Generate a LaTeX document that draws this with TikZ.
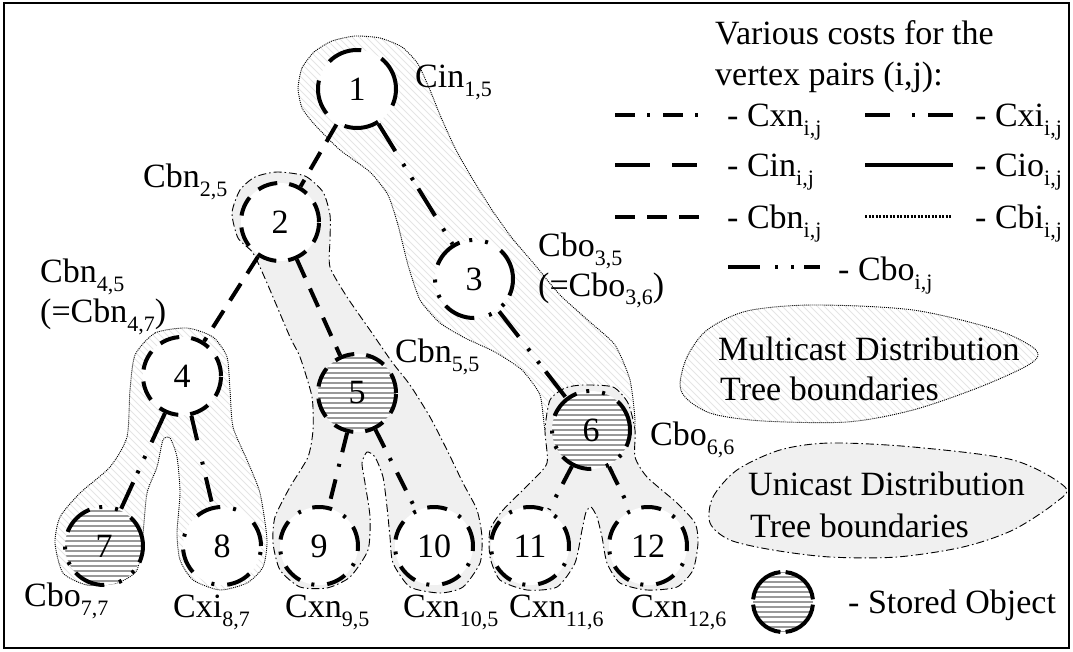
\documentclass[tikz,border=0pt]{standalone}
\usepackage{fontspec}
\setmainfont{Liberation Serif}
\usetikzlibrary{calc}

\definecolor{ugray}{gray}{0.94}
\definecolor{hatchgray}{gray}{0.9}
\definecolor{storegray}{gray}{0.6}

% lowered index, as in Cbn_{2,5}
\newcommand\lowidx[1]{\raisebox{-9pt}{\fontsize{22}{22}\selectfont #1}}

% outlines of the distribution-tree regions
\newcommand\blobMone{plot[smooth cycle, tension=0.35] coordinates {
  (298,88) (302,68) (314,52) (332,41) (355,36) (380,38) (402,47) (418,64)
  (430,90) (440,115) (455,148) (472,178) (492,210) (512,238) (535,265)
  (560,295) (590,322) (615,345) (630,380) (635,425) (625,455) (591,470)
  (555,455) (545,430) (540,395) (522,370) (495,352) (465,338) (440,323)
  (420,300) (408,265) (398,225) (388,195) (370,172) (340,150) (315,125)
  (302,108)}}
\newcommand\blobMtwo{plot[smooth cycle, tension=0.4] coordinates {
  (135,355) (155,333) (187,328) (213,337) (227,357) (230,390) (233,427)
  (247,460) (260,493) (267,540) (263,567) (247,583) (220,590) (193,580)
  (180,560) (177,533) (180,493) (177,457) (170,438) (163,440) (157,467)
  (147,493) (143,533) (137,570) (117,583) (87,585) (63,573) (55,543)
  (60,517) (80,493) (110,467) (127,437) (130,390)}}
\newcommand\blobMleg{plot[smooth cycle, tension=0.5] coordinates {
  (680,385) (687,357) (707,330) (747,311) (813,305) (913,310) (997,330)
  (1036,350) (1030,364) (980,387) (913,410) (847,422) (763,421) (713,414)
  (688,400)}}
\newcommand\blobUone{plot[smooth cycle, tension=0.4] coordinates {
  (277,172) (305,176) (323,192) (330,215) (330,240) (330,267) (347,297)
  (372,333) (392,362) (410,385) (430,417) (447,450) (463,483) (477,510)
  (482,537) (480,563) (463,587) (440,593) (410,587) (393,563) (390,537)
  (387,507) (383,477) (375,457) (367,452) (362,463) (365,483) (370,517)
  (368,550) (350,577) (327,588) (300,587) (280,570) (273,543) (275,517)
  (290,487) (308,457) (313,430) (312,397) (300,357) (290,337) (267,283)
  (253,253) (238,238) (232,213) (240,190) (255,177)}}
\newcommand\blobUtwo{plot[smooth cycle, tension=0.4] coordinates {
  (583,385) (613,387) (628,403) (635,430) (635,457) (647,477) (677,503)
  (695,523) (698,543) (693,570) (677,587) (647,590) (620,583) (607,563)
  (602,537) (597,517) (591,507) (586,512) (582,530) (575,563) (557,587)
  (527,590) (500,580) (490,557) (490,530) (503,510) (530,483) (547,463)
  (545,430) (550,400) (565,388)}}
\newcommand\blobUleg{plot[smooth cycle, tension=0.5] coordinates {
  (710,523) (713,497) (737,470) (780,450) (830,443) (913,447) (1013,460)
  (1065,487) (1055,503) (1013,530) (963,547) (897,557) (830,557) (773,550)
  (730,540)}}

% light diagonal hatching inside a region
\newcommand\mhatch[1]{%
  \begin{scope}
    \clip #1;
    \foreach \k in {-700,-693,...,1100}
      \draw[hatchgray, line width=1pt] (\k,0) -- ++(700,700);
  \end{scope}}

\begin{document}
\begin{tikzpicture}[x=1pt, y=-1pt,
  every node/.style={font=\fontsize{34}{38}\selectfont, inner sep=0pt},
  vtx/.style={circle, draw, fill=white, minimum size=78pt},
  cxn/.style={line width=4pt, dash pattern=on 20pt off 12pt on 3pt off 13pt},
  cxi/.style={line width=4pt, dash pattern=on 25pt off 22pt on 3pt off 13pt},
  cin/.style={line width=4pt, dash pattern=on 35pt off 22pt},
  cio/.style={line width=4pt},
  cbn/.style={line width=4pt, dash pattern=on 20pt off 12pt},
  cbi/.style={line width=3pt, dash pattern=on 2pt off 1.5pt},
  cbo/.style={line width=4pt, dash pattern=on 32pt off 15pt on 3pt off 13pt on 3pt off 10pt},
  mline/.style={line width=0.9pt, dash pattern=on 1pt off 1pt},
  uline/.style={line width=0.9pt, dash pattern=on 8pt off 3pt on 1.5pt off 3pt},
  stored/.style={path picture={
    \foreach \k in {-45,-40,...,45}
      \draw[storegray, solid, line width=1.5pt]
        ([xshift=-50pt, yshift=\k pt]path picture bounding box.center) -- ++(100pt,0);}},
  lbl/.style={anchor=base west},
]
\useasboundingbox (0,0) rectangle (1073,652);
\draw[line width=2pt] (4,3) rectangle (1069,648);

% multicast regions: hatched, dotted outline
\mhatch{\blobMone}
\draw[mline] \blobMone;
\mhatch{\blobMtwo}
\draw[mline] \blobMtwo;
\mhatch{\blobMleg}
\draw[mline] \blobMleg;

% unicast regions: grey, dash-dotted outline
\draw[uline, fill=ugray] \blobUone;
\draw[uline, fill=ugray] \blobUtwo;
\draw[uline, fill=ugray] \blobUleg;

% vertices
\node[vtx, cin] (n1) at (357,89) {1};
\node[vtx, cbn] (n2) at (280,222) {2};
\node[vtx, cbo] (n3) at (474,279) {3};
\node[vtx, cbn] (n4) at (182,376) {4};
\node[vtx, cbn, stored] (n5) at (357,393) {5};
\node[vtx, cbo, stored] (n6) at (591,430) {6};
\node[vtx, cbo, stored] (n7) at (104,546) {7};
\node[vtx, cxi] (n8) at (222,546) {8};
\node[vtx, cxn] (n9) at (319,546) {9};
\node[vtx, cxn] (n10) at (434,546) {10};
\node[vtx, cxn] (n11) at (530,546) {11};
\node[vtx, cxn] (n12) at (648,546) {12};

% tree edges
\draw[cbn] (n1) -- (n2);
\draw[cbo] (n1) -- (n3);
\draw[cbn] (n2) -- (n4);
\draw[cbn] (n2) -- (n5);
\draw[cbo] (n3) -- (n6);
\draw[cbo] (n4) -- (n7);
\draw[cxi] (n4) -- (n8);
\draw[cxn] (n5) -- (n9);
\draw[cxn] (n5) -- (n10);
\draw[cxn] (n6) -- (n11);
\draw[cxn] (n6) -- (n12);

% cost labels
\node[lbl] (t1) at (415,88) {Cin\lowidx{1,5}};
\node[lbl] (t2) at (143,188) {Cbn\lowidx{2,5}};
\node[lbl] (t4a) at (40,283) {Cbn\lowidx{4,5}};
\node[lbl] (t4b) at (40,322) {(=Cbn\lowidx{4,7})};
\node[lbl] (t3a) at (538,257) {Cbo\lowidx{3,5}};
\node[lbl] (t3b) at (538,296) {(=Cbo\lowidx{3,6})};
\node[lbl] (t5) at (395,362) {Cbn\lowidx{5,5}};
\node[lbl] (t6) at (650,445) {Cbo\lowidx{6,6}};
\node[lbl] (t7) at (24,606) {Cbo\lowidx{7,7}};
\node[lbl] (t8) at (173,617) {Cxi\lowidx{8,7}};
\node[lbl] (t9) at (285,617) {Cxn\lowidx{9,5}};
\node[lbl] (t10) at (403,617) {Cxn\lowidx{10,5}};
\node[lbl] (t11) at (509,617) {Cxn\lowidx{11,6}};
\node[lbl] (t12) at (631,617) {Cxn\lowidx{12,6}};

% legend of cost line styles
\node[lbl] (h1) at (715,45) {Various costs for the};
\node[lbl] (h2) at (715,86) {vertex pairs (i,j):};
\draw[cxn] (615,115) -- (700,115);
\node[lbl] (k1) at (727,127) {- Cxn\lowidx{i,j}};
\draw[cxi] (865,115) -- (953,115);
\node[lbl] (k2) at (975,127) {- Cxi\lowidx{i,j}};
\draw[cin] (615,165) -- (697,165);
\node[lbl] (k3) at (727,177) {- Cin\lowidx{i,j}};
\draw[cio] (865,165) -- (953,165);
\node[lbl] (k4) at (975,177) {- Cio\lowidx{i,j}};
\draw[cbn] (615,217) -- (709,217);
\node[lbl] (k5) at (727,229) {- Cbn\lowidx{i,j}};
\draw[cbi] (865,217) -- (952,217);
\node[lbl] (k6) at (975,229) {- Cbi\lowidx{i,j}};
\draw[cbo] (728,267) -- (820,267);
\node[lbl] (k7) at (838,280) {- Cbo\lowidx{i,j}};

% legend of regions and stored objects
\node[lbl] (m1) at (718,360) {Multicast Distribution};
\node[lbl] (m2) at (720,400) {Tree boundaries};
\node[lbl] (u1) at (748,495) {Unicast Distribution};
\node[lbl] (u2) at (750,537) {Tree boundaries};
\node[circle, minimum size=60pt, fill=white, stored] (so) at (783,602) {};
\foreach \a in {5,95,185,275}
  \draw[line width=4pt] ($(so.center)+(\a:30pt)$) arc[start angle=\a, end angle=\a+80, radius=30pt];
\node[lbl] (st) at (848,613) {- Stored Object};
\end{tikzpicture}
\end{document}
